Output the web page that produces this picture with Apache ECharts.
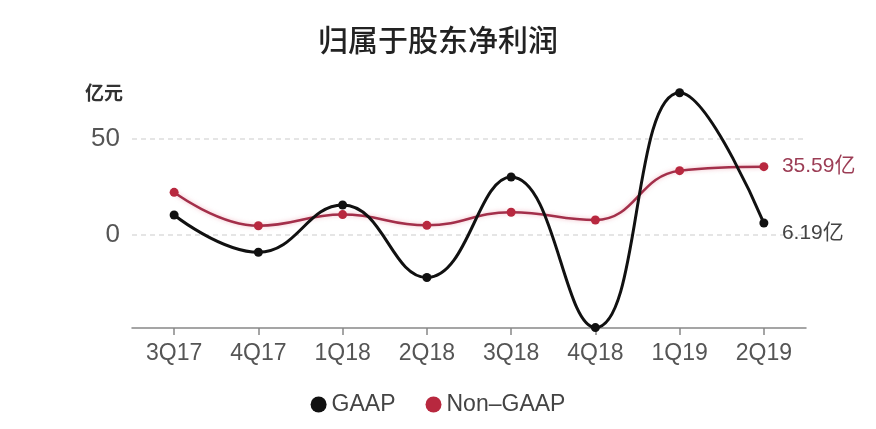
<!DOCTYPE html>
<html><head><meta charset="utf-8">
<script src="https://cdn.jsdelivr.net/npm/echarts@6/dist/echarts.min.js"></script>
<style>html,body{margin:0;padding:0;background:#fff}#c{width:876px;height:429px}</style>
</head><body><div id="c"></div>
<script>
const categories = ['3Q17','4Q17','1Q18','2Q18','3Q18','4Q18','1Q19','2Q19'];
const gaap = [10.4, -9.0, 15.6, -22.2, 30.2, -48.3, 74.1, 6.19];
const nonGaap = [22.2, 4.8, 10.6, 5.0, 11.8, 7.8, 33.5, 35.59];
const yTicks = [0, 50];

const chart = echarts.init(document.getElementById('c'));
const font = '"Liberation Sans", Arial, "Noto Sans CJK SC", sans-serif';
chart.setOption({
  animation: false,
  title: [
    {text: '归属于股东净利润', left: 'center', top: 20,
     textStyle: {fontFamily: '"Noto Sans CJK SC"', fontSize: 30, fontWeight: 500, color: '#222'}},
    {text: '亿元', left: 80, top: 78,
     textStyle: {fontFamily: '"Noto Sans CJK SC"', fontSize: 19, fontWeight: 'bold', color: '#333'}}
  ],
  legend: {
    bottom: 8, left: 'center', itemGap: 30, itemWidth: 16, itemHeight: 16,
    icon: 'circle',
    textStyle: {fontFamily: font, fontSize: 23, color: '#444'},
    data: ['GAAP', 'Non–GAAP']
  },
  grid: {left: 132, right: 70, top: 91, bottom: 101},
  xAxis: {
    type: 'category', data: categories, boundaryGap: true,
    axisLine: {onZero: false, lineStyle: {color: '#888', width: 1.5}},
    axisTick: {show: true, alignWithLabel: true, length: 7, lineStyle: {color: '#888', width: 1.5}},
    axisLabel: {fontFamily: font, fontSize: 23, color: '#555', margin: 14}
  },
  yAxis: {
    type: 'value', min: -48.5, max: 75,
    axisLine: {show: false},
    axisTick: {show: false, customValues: yTicks},
    axisLabel: {fontFamily: font, fontSize: 26, color: '#555', margin: 12, customValues: yTicks},
    splitLine: {show: true, lineStyle: {color: '#ddd', type: [5, 4], width: 1.5}}
  },
  series: [
    {
      name: 'GAAP', type: 'line', data: gaap, smooth: 0.45,
      symbol: 'circle', symbolSize: 9,
      lineStyle: {color: '#111', width: 3},
      itemStyle: {color: '#111'},
      endLabel: {show: true, formatter: p => p.value + '亿', distance: 18, offset: [0, 10],
        fontFamily: font, fontSize: 21, color: '#444'},
      z: 3
    },
    {
      name: 'Non–GAAP', type: 'line', data: nonGaap, smooth: 0.45,
      symbol: 'circle', symbolSize: 9,
      lineStyle: {color: '#a32f4a', width: 2.5, shadowColor: 'rgba(230,120,140,0.5)', shadowBlur: 4},
      itemStyle: {color: '#b8283f'},
      endLabel: {show: true, formatter: p => p.value + '亿', distance: 18,
        fontFamily: font, fontSize: 21, color: '#9c3d55'},
      z: 2
    }
  ]
});
</script></body></html>
